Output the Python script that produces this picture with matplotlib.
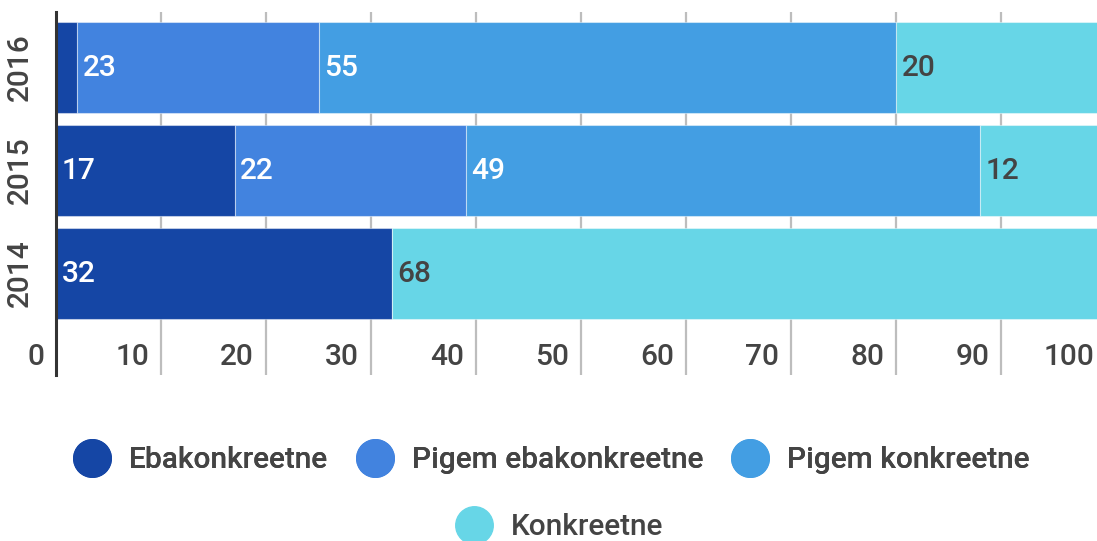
import numpy as np
import matplotlib.pyplot as plt
from matplotlib.lines import Line2D

plt.rcParams['font.family'] = ['Roboto', 'DejaVu Sans']
plt.rcParams['font.weight'] = 'medium'

years = ['2014', '2015', '2016']
series = ['Ebakonkreetne', 'Pigem ebakonkreetne', 'Pigem konkreetne', 'Konkreetne']
ebakonkreetne = [32, 17, 2]
pigem_ebakonkreetne = [0, 22, 23]
pigem_konkreetne = [0, 49, 55]
konkreetne = [68, 12, 20]
xticks = [0, 10, 20, 30, 40, 50, 60, 70, 80, 90, 100]

colors = ['#1546a5', '#4283df', '#439ee3', '#67d6e7']
label_colors = ['white', 'white', 'white', '#444444']
text_col = '#444444'
fs = 21.5

fig = plt.figure(figsize=(10.97, 5.41), dpi=100)
ax = fig.add_axes([56 / 1097, 166 / 541, 1050 / 1097, 363 / 541])

y = np.arange(len(years))
left = np.zeros(len(years))
for vals, col, lcol in zip([ebakonkreetne, pigem_ebakonkreetne, pigem_konkreetne, konkreetne],
                           colors, label_colors):
    vals = np.array(vals, dtype=float)
    ax.barh(y, vals, left=left, height=0.883, color=col,
            edgecolor=(1, 1, 1, 0.45), linewidth=0.8, zorder=2)
    for yi, l, v in zip(y, left, vals):
        if v >= 5:
            ax.annotate(str(int(v)), (l, yi), xytext=(4, 0), textcoords='offset points',
                        ha='left', va='center', color=lcol, fontsize=fs, zorder=3)
    left += vals

ax.set_xlim(0, 100)
ax.set_ylim(-0.985, 2.539)
ax.set_xticks(xticks[1:])
ax.set_xticklabels([])
ax.tick_params(axis='x', length=0)
ax.grid(axis='x', color='#bdbdbd', linewidth=1.6, zorder=0)
for t in xticks:
    ax.annotate(str(t), (t, 0.05), xycoords=('data', 'axes fraction'),
                xytext=(-8.5, 0), textcoords='offset points',
                ha='right', va='center', color=text_col, fontsize=fs)

ax.set_yticks(y)
ax.set_yticklabels(years, rotation=90, va='center', color=text_col, fontsize=fs)
ax.tick_params(axis='y', length=0, pad=16)

for s in ['top', 'right', 'bottom']:
    ax.spines[s].set_visible(False)
ax.spines['left'].set_color('#333333')
ax.spines['left'].set_linewidth(2.2)
ax.spines['left'].set_zorder(4)

handles = [Line2D([], [], marker='o', linestyle='none', markersize=27,
                  markerfacecolor=c, markeredgecolor=c) for c in colors]
leg1 = fig.legend(handles[:3], series[:3], loc='center', ncol=3,
                  bbox_to_anchor=(551 / 1097, 1 - 460 / 541), frameon=False,
                  fontsize=fs, handlelength=1.3, handletextpad=0.6,
                  columnspacing=0.9, labelcolor=text_col)
leg2 = fig.legend(handles[3:], series[3:], loc='center',
                  bbox_to_anchor=(559 / 1097, 1 - 527 / 541), frameon=False,
                  fontsize=fs, handlelength=1.3, handletextpad=0.6,
                  labelcolor=text_col)
fig.add_artist(leg1)

fig.savefig('out.png', dpi=100)
